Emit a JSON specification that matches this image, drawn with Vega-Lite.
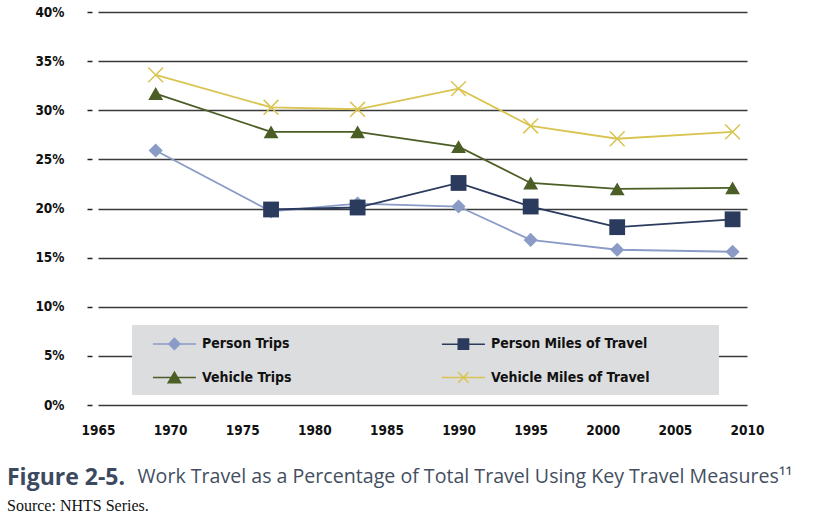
{
  "$schema": "https://vega.github.io/schema/vega-lite/v6.json",
  "width": 649,
  "height": 393,
  "autosize": "none",
  "padding": {"left": 98, "top": 12, "right": 75, "bottom": 114},
  "background": "#ffffff",
  "config": {
    "view": {"stroke": null},
    "font": "DejaVu Sans Condensed, DejaVu Sans, sans-serif"
  },
  "data": {
    "values": [
      {"measure": "Person Trips", "year": 1969, "pct": 25.9},
      {"measure": "Person Trips", "year": 1977, "pct": 19.7},
      {"measure": "Person Trips", "year": 1983, "pct": 20.5},
      {"measure": "Person Trips", "year": 1990, "pct": 20.2},
      {"measure": "Person Trips", "year": 1995, "pct": 16.8},
      {"measure": "Person Trips", "year": 2001, "pct": 15.8},
      {"measure": "Person Trips", "year": 2009, "pct": 15.6},
      {"measure": "Person Miles of Travel", "year": 1977, "pct": 19.9},
      {"measure": "Person Miles of Travel", "year": 1983, "pct": 20.1},
      {"measure": "Person Miles of Travel", "year": 1990, "pct": 22.6},
      {"measure": "Person Miles of Travel", "year": 1995, "pct": 20.2},
      {"measure": "Person Miles of Travel", "year": 2001, "pct": 18.1},
      {"measure": "Person Miles of Travel", "year": 2009, "pct": 18.9},
      {"measure": "Vehicle Trips", "year": 1969, "pct": 31.7},
      {"measure": "Vehicle Trips", "year": 1977, "pct": 27.8},
      {"measure": "Vehicle Trips", "year": 1983, "pct": 27.8},
      {"measure": "Vehicle Trips", "year": 1990, "pct": 26.3},
      {"measure": "Vehicle Trips", "year": 1995, "pct": 22.6},
      {"measure": "Vehicle Trips", "year": 2001, "pct": 22.0},
      {"measure": "Vehicle Trips", "year": 2009, "pct": 22.1},
      {"measure": "Vehicle Miles of Travel", "year": 1969, "pct": 33.6},
      {"measure": "Vehicle Miles of Travel", "year": 1977, "pct": 30.3},
      {"measure": "Vehicle Miles of Travel", "year": 1983, "pct": 30.1},
      {"measure": "Vehicle Miles of Travel", "year": 1990, "pct": 32.2},
      {"measure": "Vehicle Miles of Travel", "year": 1995, "pct": 28.4},
      {"measure": "Vehicle Miles of Travel", "year": 2001, "pct": 27.1},
      {"measure": "Vehicle Miles of Travel", "year": 2009, "pct": 27.8}
    ]
  },
  "title": {
    "text": "Figure 2-5.",
    "subtitle": "Source: NHTS Series.",
    "orient": "bottom",
    "anchor": "start",
    "frame": "group",
    "dx": -91,
    "offset": -19,
    "font": "Open Sans",
    "fontSize": 23,
    "fontWeight": "bold",
    "color": "#3b4a60",
    "subtitleFont": "Liberation Serif",
    "subtitleFontSize": 16,
    "subtitleColor": "#111111",
    "subtitlePadding": 8
  },
  "encoding": {
    "x": {
      "field": "year",
      "type": "quantitative",
      "scale": {"domain": [1965, 2010], "nice": false},
      "axis": {
        "values": [1965, 1970, 1975, 1980, 1985, 1990, 1995, 2000, 2005, 2010],
        "format": "d",
        "ticks": false,
        "domain": false,
        "grid": false,
        "labelPadding": 18,
        "labelFontSize": 13.5,
        "labelFontWeight": "bold",
        "labelColor": "#111111",
        "labelFlush": false,
        "title": "Work Travel as a Percentage of Total Travel Using Key Travel Measures¹¹",
        "titleX": 39,
        "titleY": 77,
        "titleAlign": "left",
        "titleBaseline": "alphabetic",
        "titleFont": "Open Sans",
        "titleFontSize": 19.6,
        "titleFontWeight": "normal",
        "titleColor": "#434f60"
      }
    },
    "y": {
      "field": "pct",
      "type": "quantitative",
      "scale": {"domain": [0, 40], "nice": false},
      "axis": {
        "values": [0, 5, 10, 15, 20, 25, 30, 35, 40],
        "labelExpr": "datum.value + '%'",
        "grid": true,
        "gridColor": "#3a3a3a",
        "gridWidth": 1.5,
        "domain": false,
        "tickSize": 5,
        "tickWidth": 1.5,
        "tickColor": "#222222",
        "offset": 6,
        "labelPadding": 23,
        "labelFontSize": 13.5,
        "labelFontWeight": "bold",
        "labelColor": "#111111",
        "title": null
      }
    },
    "color": {
      "field": "measure",
      "type": "nominal",
      "scale": {
        "domain": ["Person Trips", "Person Miles of Travel", "Vehicle Trips", "Vehicle Miles of Travel"],
        "range": ["#8a9bc6", "#2b3b5e", "#4b5e25", "#d9c450"]
      },
      "legend": {
        "title": null,
        "orient": "none",
        "legendX": 34,
        "legendY": 313,
        "direction": "horizontal",
        "columns": 2,
        "columnPadding": 138,
        "rowPadding": 15,
        "padding": 9,
        "fillColor": "#dcdddf",
        "strokeColor": null,
        "symbolSize": 296,
        "symbolStrokeWidth": 1.5,
        "labelOffset": 42,
        "labelFontSize": 14,
        "labelFontWeight": "bold",
        "labelColor": "#111111",
        "labelLimit": 300,
        "encode": {
          "symbols": {
            "update": {
              "shape": {"signal": "datum.value === 'Person Trips' ? 'M0.28,0H5.28M2.78,-0.65L3.43,0L2.78,0.65L2.13,0Z' : datum.value === 'Person Miles of Travel' ? 'M0.28,0H5.28M2.18,-0.6H3.38V0.6H2.18ZM31,0L31,0' : datum.value === 'Vehicle Trips' ? 'M0.28,0H5.28M2.78,-0.62L3.5,0.6H2.06Z' : 'M0.28,0H5.28M2.18,-0.6L3.38,0.6M2.18,0.6L3.38,-0.6M31,0L31,0'"},
              "fill": {"scale": "color", "field": "value"},
              "stroke": {"scale": "color", "field": "value"},
              "opacity": {"value": 1}
            }
          }
        }
      }
    }
  },
  "layer": [
    {
      "mark": {"type": "line", "strokeWidth": 1.8}
    },
    {
      "transform": [{"filter": "datum.measure === 'Person Trips'"}],
      "mark": {"type": "point", "shape": "diamond", "filled": true, "size": 200, "opacity": 1}
    },
    {
      "transform": [{"filter": "datum.measure === 'Person Miles of Travel'"}],
      "mark": {"type": "point", "shape": "square", "filled": true, "size": 250, "opacity": 1}
    },
    {
      "transform": [{"filter": "datum.measure === 'Vehicle Trips'"}],
      "mark": {"type": "point", "shape": "triangle-up", "filled": true, "size": 220, "opacity": 1}
    },
    {
      "transform": [{"filter": "datum.measure === 'Vehicle Miles of Travel'"}],
      "mark": {"type": "point", "shape": "M-1,-1L1,1M-1,1L1,-1", "filled": false, "size": 220, "strokeWidth": 1.5, "opacity": 1}
    }
  ]
}
